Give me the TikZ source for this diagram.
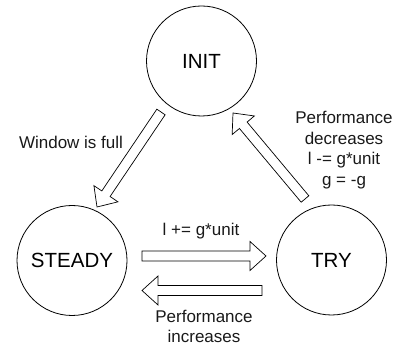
\documentclass[tikz,border=0pt]{standalone}
\usepackage{fontspec}
\setmainfont{Liberation Sans}
\usetikzlibrary{calc}

% Hollow block arrow from a tail coordinate (#1) to a tip coordinate (#2)
\newcommand{\blockarrow}[2]{%
  \coordinate (#2-base) at ($(#2)!16pt!(#1)$);
  \draw[arrowline]
    ($(#1)!5pt!90:(#2)$) --
    ($(#2-base)!5pt!90:(#2)$) --
    ($(#2-base)!14.5pt!90:(#2)$) --
    (#2) --
    ($(#2-base)!14.5pt!-90:(#2)$) --
    ($(#2-base)!5pt!-90:(#2)$) --
    ($(#1)!5pt!-90:(#2)$) -- cycle;
}

\tikzset{
  state/.style={circle, draw, line width=0.8pt, minimum size=110pt, inner sep=0pt,
    font=\fontsize{20.5}{24}\selectfont},
  arrowline/.style={draw, line width=0.7pt, line join=miter, fill=white},
  lbl/.style={align=center, inner sep=0pt, text=black!90,
    font=\fontsize{17}{20.5}\selectfont},
}

\begin{document}
\begin{tikzpicture}[x=1pt, y=-1pt]
  \useasboundingbox (0,0) rectangle (401,352);

  % states
  \node[state] (init)   at (201.5,61)  {INIT};
  \node[state] (steady) at (72,260.5)  {STEADY};
  \node[state] (try)    at (331.5,260) {TRY};

  % arrow end points
  \coordinate (fullTail) at (161,112);
  \coordinate (fullTip)  at (97,207);
  \coordinate (decTail)  at (305,199);
  \coordinate (decTip)   at (233,113);
  \coordinate (stepTail) at (142,256);
  \coordinate (stepTip)  at (266,256);
  \coordinate (incTail)  at (262,290.5);
  \coordinate (incTip)   at (142,290.5);

  % transitions
  \blockarrow{fullTail}{fullTip}
  \blockarrow{decTail}{decTip}
  \blockarrow{stepTail}{stepTip}
  \blockarrow{incTail}{incTip}

  % transition labels
  \node[lbl] (lfull) at (71,142.5) {Window is full};
  \node[lbl] (ldec)  at (344,150)  {Performance\\decreases\\l -= g*unit\\g = -g};
  \node[lbl] (lstep) at (201,231)  {l += g*unit};
  \node[lbl] (linc)  at (204,326.5) {Performance\\increases};
\end{tikzpicture}
\end{document}
